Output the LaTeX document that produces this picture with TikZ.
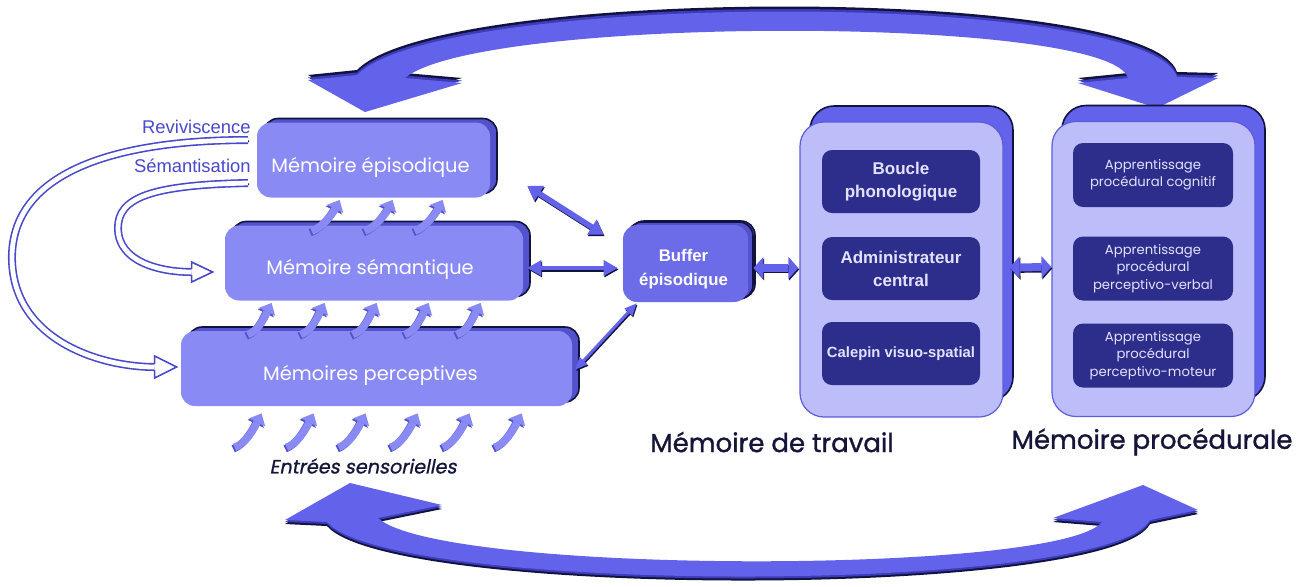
\documentclass[tikz,border=0pt]{standalone}
\usepackage{fontspec}
\setmainfont{Liberation Sans}
\newfontfamily\pop{Poppins}
\newfontfamily\popfb{Poppins}[FakeBold=1.2]
\newfontfamily\popsl{Poppins}[FakeSlant=0.2,FakeBold=1]
\usetikzlibrary{arrows.meta,shadows,calc}
\definecolor{face}{HTML}{8A8AF5}
\definecolor{bufface}{HTML}{6C6CE8}
\definecolor{side}{HTML}{5252CC}
\definecolor{rim}{HTML}{12123F}
\definecolor{pale}{HTML}{BDBDFA}
\definecolor{paleedge}{HTML}{5C5CDC}
\definecolor{navy}{HTML}{2D2D8C}
\definecolor{arcc}{HTML}{6262EA}
\definecolor{arcmid}{HTML}{3C3CB8}
\definecolor{labblue}{HTML}{4848CC}
\definecolor{ink}{HTML}{15153A}
\definecolor{lav}{HTML}{E2E2FF}
\newcommand\toparcshape[1]{\fill[#1] (308,80) -- (357,75) .. controls (440,-10) and (1150,-10) .. (1177,77) -- (1218,78) -- (1157,108) -- (1078,83) -- (1128,78) .. controls (1110,15) and (480,15) .. (405,78) -- (462,83) -- (365,112) -- cycle;}
\newcommand\botarcshape[1]{\fill[#1] (285,520) -- (350,483) -- (442,505) -- (378,518) .. controls (440,575) and (1060,575) .. (1102,522) -- (1053,518) -- (1143,485) -- (1198,510) -- (1150,520) .. controls (1110,595) and (390,595) .. (327,522) -- cycle;}
\begin{document}
\begin{tikzpicture}[x=0.5pt,y=-0.5pt,
  membox/.style={rounded corners=7pt, fill=face, minimum height=37.5pt, inner sep=0pt,
    copy shadow={rounded corners=7pt, shadow xshift=3.5pt, shadow yshift=2pt, fill=side, draw=rim, line width=0.8pt}},
  memlab/.style={text=white, font=\pop\fontsize{9.7}{11}\selectfont},
  container/.style={rounded corners=12pt, fill=pale, draw=paleedge, line width=0.6pt,
    minimum width=101.5pt, minimum height=147.5pt, inner sep=0pt,
    copy shadow={rounded corners=12pt, shadow xshift=5pt, shadow yshift=8pt, fill=arcc, draw=rim, line width=0.8pt}},
  wmin/.style={rounded corners=5pt, fill=navy, text=lav, align=center, minimum width=79pt,
    minimum height=31.5pt, inner sep=0pt, font=\bfseries\fontsize{8.5}{11.5}\selectfont},
  pmin/.style={rounded corners=5pt, fill=navy, text=lav, align=center, minimum width=80pt,
    minimum height=32pt, inner sep=0pt, font=\pop\fontsize{6.6}{8.6}\selectfont},
  title/.style={text=ink, font=\popfb\fontsize{13}{15}\selectfont},
  uparr/.style={line width=3.8pt, draw=face, -{Triangle[length=5pt,width=9pt,line width=0pt]}},
  uparrd/.style={uparr, draw=side, transform canvas={xshift=-0.7pt,yshift=-0.7pt}},
  lk/.style n args={3}{line width=#1, {Triangle[length=#2,width=#3,line width=0pt]}-{Triangle[length=#2,width=#3,line width=0pt]}},
  lkd/.style={draw=rim, transform canvas={xshift=0.4pt,yshift=-0.7pt}},
  lkm/.style={draw=arcc},
  rev/.style={draw=labblue, line width=0.8pt, double=white, double distance=2.4pt},
  revsh/.style={draw=black, line width=0.8pt, transform canvas={xshift=0.6pt,yshift=-0.6pt}},
  revlab/.style={text=labblue, font=\fontsize{9.2}{10}\selectfont, anchor=east, inner sep=0pt}
]
\useasboundingbox (0,0) rectangle (1304,586);

% big arcs
\toparcshape{rim, shift={(0,-5)}}
\toparcshape{arcmid, shift={(0,-2.5)}}
\toparcshape{arcc}
\botarcshape{rim, shift={(0,4)}}
\botarcshape{arcmid, shift={(0,2)}}
\botarcshape{arcc}

% left memory stack
\node[membox, minimum width=195.5pt] (per) at (376.5,368.5) {};
\node[membox, minimum width=149pt] (sem) at (374,263) {};
\node[membox, minimum width=116.5pt] (ep) at (373.5,160) {};
\node[memlab] (eplab) at ($(ep.center)+(-3,7)$) {Mémoire épisodique};
\node[memlab] (semlab) at ($(sem.center)+(-4,6)$) {Mémoire sémantique};
\node[memlab] (perlab) at ($(per.center)+(-6,6.5)$) {Mémoires perceptives};

% buffer
\node[membox, fill=bufface, minimum width=62.5pt, minimum height=38.5pt,
  copy shadow={rounded corners=7pt, shadow xshift=2.5pt, shadow yshift=1.5pt, fill=side, draw=rim, line width=0.8pt}] (buf) at (685.5,263.5) {};
\node[text=white, font=\bfseries\fontsize{8.4}{12}\selectfont, align=center] (buflab) at ($(buf.center)+(-2,6)$) {Buffer\\épisodique};

% working memory and procedural memory
\node[container] (wm) at (901.5,269.5) {};
\node[container] (pm) at (1153.5,269) {};
\node[wmin] (bp) at (901,181.5) {Boucle\\phonologique};
\node[wmin] (ac) at (901,268.5) {Administrateur\\central};
\node[wmin, font=\bfseries\fontsize{7.4}{9}\selectfont] (cv) at (901,353.5) {Calepin visuo-spatial};
\node[pmin] (pc) at (1153,175) {Apprentissage\\procédural cognitif};
\node[pmin] (pv) at (1153,268.5) {Apprentissage\\procédural\\perceptivo-verbal};
\node[pmin] (pmo) at (1153,355.5) {Apprentissage\\procédural\\perceptivo-moteur};

\node[title] (wt) at (772,442) {Mémoire de travail};
\node[title] (pt) at (1152,442) {Mémoire procédurale};
\node[text=ink, font=\popsl\fontsize{9.6}{11}\selectfont] (es) at (363,466) {Entrées sensorielles};

% small upward arrows
\foreach \d in {0,53,103}{
  \draw[uparrd] ($(sem.north west)+(87+\d,6)$) .. controls +(12,-4) and +(-6,12) .. ($(ep.south west)+(83+\d,2)$);
  \draw[uparr] ($(sem.north west)+(87+\d,6)$) .. controls +(12,-4) and +(-6,12) .. ($(ep.south west)+(83+\d,2)$);
}
\foreach \d in {0,53,105,157,209}{
  \draw[uparrd] ($(per.north west)+(67+\d,4)$) .. controls +(12,-4) and +(-6,12) .. ($(sem.south west)+(47+\d,2)$);
  \draw[uparr] ($(per.north west)+(67+\d,4)$) .. controls +(12,-4) and +(-6,12) .. ($(sem.south west)+(47+\d,2)$);
}
\foreach \d [count=\k] in {0,52,104,156,208,260}{
  \coordinate (s\k) at ($(per.south west)+(54+\d,41)$);
  \draw[uparrd] (s\k) .. controls +(12,-4) and +(-6,12) .. ($(per.south west)+(81+\d,7)$);
  \draw[uparr] (s\k) .. controls +(12,-4) and +(-6,12) .. ($(per.south west)+(81+\d,7)$);
}

% links to the buffer and between memories
\draw[lk={2.8pt}{7pt}{9pt}, lkd] ($(ep.east)+(37,26)$) -- ($(buf.north west)+(-19,10)$);
\draw[lk={2.8pt}{7pt}{9pt}, lkm] ($(ep.east)+(37,26)$) -- ($(buf.north west)+(-19,10)$);
\draw[lk={2.4pt}{7pt}{8pt}, lkd] ($(sem.east)+(4,5)$) -- ($(buf.west)+(-5,4.5)$);
\draw[lk={2.4pt}{7pt}{8pt}, lkm] ($(sem.east)+(4,5)$) -- ($(buf.west)+(-5,4.5)$);
\draw[lk={1.5pt}{6pt}{5.5pt}, lkd] ($(per.east)+(3,1)$) -- ($(buf.south west)+(14,1)$);
\draw[lk={1.5pt}{6pt}{5.5pt}, lkm] ($(per.east)+(3,1)$) -- ($(buf.south west)+(14,1)$);
\draw[lk={4pt}{5pt}{11pt}, lkd] ($(buf.east)+(5,4.5)$) -- ($(wm.west)+(-1,-1.5)$);
\draw[lk={4pt}{5pt}{11pt}, lkm] ($(buf.east)+(5,4.5)$) -- ($(wm.west)+(-1,-1.5)$);
\draw[lk={4pt}{5pt}{11pt}, lkd] ($(wm.east)+(6,-2)$) -- ($(pm.west)+(0,-2)$);
\draw[lk={4pt}{5pt}{11pt}, lkm] ($(wm.east)+(6,-2)$) -- ($(pm.west)+(0,-2)$);

% reviviscence / semantisation
\node[revlab] (revlab) at (251,127) {Reviviscence};
\node[revlab] (semtlab) at (251,166) {Sémantisation};
\coordinate (revS) at (248,140);
\coordinate (revE) at ($(per.west)+(-26,-1.5)$);
\coordinate (revT) at ($(per.west)+(-4,-1.5)$);
\coordinate (semS) at (248,183);
\coordinate (semE) at ($(sem.west)+(-33,9)$);
\coordinate (semT) at ($(sem.west)+(-12,9)$);
\draw[revsh] (revS) .. controls (120,140) and (10,170) .. (12,260) .. controls (14,340) and (100,367) .. (revE);
\draw[rev] (revS) .. controls (120,140) and (10,170) .. (12,260) .. controls (14,340) and (100,367) .. (revE);
\fill[white] ($(revE)+(0,-11)$) -- (revT) -- ($(revE)+(0,11)$) -- cycle;
\draw[labblue, line width=0.8pt, line join=miter] ($(revE)+(0,-3.2)$) -- ($(revE)+(0,-11)$) -- (revT) -- ($(revE)+(0,11)$) -- ($(revE)+(0,3.2)$);
\draw[revsh] (semS) .. controls (150,185) and (118,198) .. (118,228) .. controls (118,262) and (160,272) .. (semE);
\draw[rev] (semS) .. controls (150,185) and (118,198) .. (118,228) .. controls (118,262) and (160,272) .. (semE);
\fill[white] ($(semE)+(0,-10)$) -- (semT) -- ($(semE)+(0,10)$) -- cycle;
\draw[labblue, line width=0.8pt, line join=miter] ($(semE)+(0,-3.2)$) -- ($(semE)+(0,-10)$) -- (semT) -- ($(semE)+(0,10)$) -- ($(semE)+(0,3.2)$);
\end{tikzpicture}
\end{document}
